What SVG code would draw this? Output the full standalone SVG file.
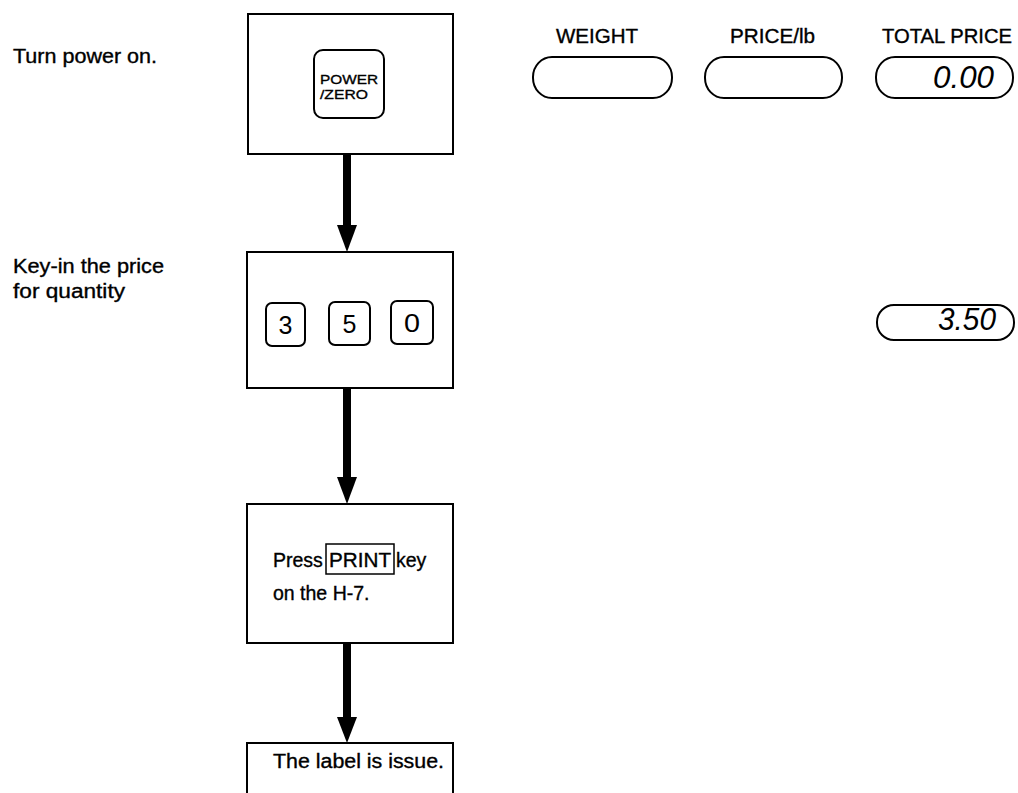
<svg xmlns="http://www.w3.org/2000/svg" width="1018" height="793" viewBox="0 0 1018 793">
<style>
  .t { font-family: "Liberation Sans", Arial, Helvetica, sans-serif; fill: #000; }
  .w { stroke: #000; stroke-width: 0.35; }
  .box { fill: #fff; stroke: #000; stroke-width: 2; }
  .key { fill: #fff; stroke: #000; stroke-width: 2; }
  .pill { fill: #fff; stroke: #000; stroke-width: 2; }
  .shaft { stroke: #000; stroke-width: 8; }
  .head { fill: #000; }
  .lbl { font-size: 19.5px; }
  .dig { font-size: 25px; text-anchor: middle; }
  .seg { font-size: 31px; font-style: italic; text-anchor: end; }
</style>
<rect width="1018" height="793" fill="#fff"/>

<g id="side-labels">
  <text class="t w lbl" x="13" y="63" textLength="144" lengthAdjust="spacingAndGlyphs">Turn power on.</text>
  <text class="t w lbl" x="13" y="273" textLength="151" lengthAdjust="spacingAndGlyphs">Key-in the price</text>
  <text class="t w lbl" x="13" y="298" textLength="112" lengthAdjust="spacingAndGlyphs">for quantity</text>
</g>

<g id="connectors">
  <line class="shaft" x1="347" y1="154" x2="347" y2="228"/>
  <polygon class="head" points="337,225 357,225 347,252"/>
  <line class="shaft" x1="347" y1="388" x2="347" y2="480"/>
  <polygon class="head" points="337,477 357,477 347,504"/>
  <line class="shaft" x1="347" y1="643" x2="347" y2="720"/>
  <polygon class="head" points="337,717 357,717 347,743"/>
</g>

<g id="node-power">
  <rect class="box" x="248" y="14" width="205" height="140"/>
  <rect class="key" x="314" y="50" width="70" height="68" rx="9"/>
  <text class="t w" x="320" y="84" font-size="13.5" textLength="58" lengthAdjust="spacingAndGlyphs">POWER</text>
  <text class="t w" x="320" y="99" font-size="13.5" textLength="48" lengthAdjust="spacingAndGlyphs">/ZERO</text>
</g>

<g id="node-keyin">
  <rect class="box" x="247" y="252" width="206" height="136"/>
  <rect class="key" x="266" y="303" width="39" height="43" rx="6"/>
  <text class="t dig" x="285.5" y="334">3</text>
  <rect class="key" x="329" y="302" width="41" height="43" rx="6"/>
  <text class="t dig" x="349.5" y="333">5</text>
  <rect class="key" x="391" y="301" width="42" height="43" rx="6"/>
  <text class="t dig" x="412" y="332" textLength="16" lengthAdjust="spacingAndGlyphs">0</text>
</g>

<g id="node-print">
  <rect class="box" x="247" y="504" width="206" height="139"/>
  <text class="t w lbl" x="273" y="567">Press</text>
  <rect fill="none" stroke="#000" stroke-width="1.5" x="326" y="544" width="68" height="30"/>
  <text class="t w lbl" x="329" y="567" textLength="62" lengthAdjust="spacingAndGlyphs">PRINT</text>
  <text class="t w lbl" x="396" y="567">key</text>
  <text class="t w lbl" x="273" y="600">on the H-7.</text>
</g>

<g id="node-issue">
  <rect class="box" x="247" y="743" width="206" height="80"/>
  <text class="t w lbl" x="273" y="768" textLength="171" lengthAdjust="spacingAndGlyphs">The label is issue.</text>
</g>

<g id="display-top">
  <text class="t w lbl" x="556" y="43" textLength="82" lengthAdjust="spacingAndGlyphs">WEIGHT</text>
  <text class="t w lbl" x="730" y="43" textLength="85" lengthAdjust="spacingAndGlyphs">PRICE/lb</text>
  <text class="t w lbl" x="882" y="43" textLength="130" lengthAdjust="spacingAndGlyphs">TOTAL PRICE</text>
  <rect class="pill" x="533" y="57" width="139" height="41" rx="19" ry="20"/>
  <rect class="pill" x="705" y="57" width="137" height="41" rx="19" ry="20"/>
  <rect class="pill" x="876" y="57" width="137" height="41" rx="19" ry="20"/>
  <text class="t seg" x="994" y="88" textLength="61" lengthAdjust="spacingAndGlyphs">0.00</text>
</g>

<g id="display-total">
  <rect class="pill" x="877" y="305" width="137" height="35" rx="17" ry="17"/>
  <text class="t seg" x="996" y="330" font-size="24" textLength="58" lengthAdjust="spacingAndGlyphs">3.50</text>
</g>
</svg>
